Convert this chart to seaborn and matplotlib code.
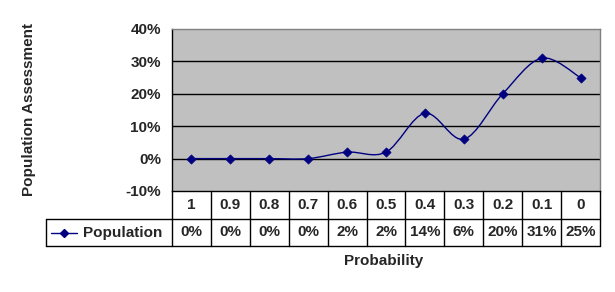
import matplotlib
matplotlib.use("Agg")
import matplotlib.pyplot as plt
import matplotlib.transforms as mtransforms
from matplotlib.path import Path
from matplotlib.patches import PathPatch
from matplotlib.lines import Line2D
import numpy as np
import pandas as pd
import seaborn as sns

categories = ["1", "0.9", "0.8", "0.7", "0.6", "0.5", "0.4", "0.3", "0.2", "0.1", "0"]
population = [0.00, 0.00, 0.00, 0.00, 0.02, 0.02, 0.14, 0.06, 0.20, 0.31, 0.25]
table_labels = ["0%", "0%", "0%", "0%", "2%", "2%", "14%", "6%", "20%", "31%", "25%"]
y_ticks = [-0.10, 0.0, 0.10, 0.20, 0.30, 0.40]
series_name = "Population"
x_title = "Probability"
y_title = "Population Assessment"

sns.set_style("white")
plt.rcParams["font.family"] = ["Liberation Sans", "DejaVu Sans"]
plt.rcParams["font.weight"] = "bold"

W, H = 615, 292
fig = plt.figure(figsize=(W / 100, H / 100), dpi=100)
fig.patch.set_facecolor("white")

def fx(px):
    return px / W

def fy(py):
    return 1 - py / H

L, R, T, B = 172, 600, 29, 191
ax = fig.add_axes([fx(L), fy(B), fx(R) - fx(L), fy(T) - fy(B)])
ax.set_facecolor("#c0c0c0")

df = pd.DataFrame({"x": np.arange(len(categories)), "y": population})
navy = "#000080"
FS = 11

# smoothed line (Excel-style Bezier through the data points)
xs = df["x"].to_numpy(dtype=float)
ys = df["y"].to_numpy(dtype=float)
pts = np.column_stack([xs, ys])
n = len(pts)
verts = [tuple(pts[0])]
codes = [Path.MOVETO]
for i in range(n - 1):
    p0 = pts[i - 1] if i > 0 else pts[i]
    p1 = pts[i]
    p2 = pts[i + 1]
    p3 = pts[i + 2] if i + 2 < n else pts[i + 1]
    c1 = p1 + (p2 - p0) / 6.0
    c2 = p2 - (p3 - p1) / 6.0
    verts += [tuple(c1), tuple(c2), tuple(p2)]
    codes += [Path.CURVE4] * 3
ax.add_patch(PathPatch(Path(verts, codes), facecolor="none", edgecolor=navy, lw=1.0, zorder=3))

sns.scatterplot(data=df, x="x", y="y", ax=ax, marker="D", s=22, color=navy,
                edgecolor=navy, linewidth=0.5, zorder=4, legend=False)

ax.set_xlim(-0.5, len(categories) - 0.5)
ax.set_ylim(y_ticks[0], y_ticks[-1])
ax.set_yticks(y_ticks)
ax.set_yticklabels([f"{int(round(v * 100))}%" for v in y_ticks], fontsize=FS, fontweight="bold")
ax.set_xticks([])
ax.set_xlabel("")
ax.set_ylabel("")
for v in y_ticks[1:-1]:
    ax.axhline(v, color="black", lw=1.0, zorder=1)
ax.tick_params(axis="y", length=5, width=1, color="black", direction="out", pad=3)
ax.spines["left"].set_color("black")
ax.spines["bottom"].set_color("black")
ax.spines["top"].set_color("#808080")
ax.spines["right"].set_color("#808080")
for s in ax.spines.values():
    s.set_linewidth(1.0)

# data table below the plot
tr = mtransforms.blended_transform_factory(ax.transData, fig.transFigure)
row1_b, row2_b = 219, 246
legend_left = 46
bounds = np.arange(len(categories) + 1) - 0.5
for k, b in enumerate(bounds):
    fig.add_artist(Line2D([b, b], [fy(B), fy(row2_b)], transform=tr, color="black", lw=1.0))
fig.add_artist(Line2D([fx(legend_left), fx(R)], [fy(row1_b), fy(row1_b)], color="black", lw=1.0))
fig.add_artist(Line2D([fx(legend_left), fx(R)], [fy(row2_b), fy(row2_b)], color="black", lw=1.0))
fig.add_artist(Line2D([fx(legend_left), fx(legend_left)], [fy(row1_b), fy(row2_b)], color="black", lw=1.0))

for i, c in enumerate(categories):
    fig.text(i, fy(205), c, transform=tr, ha="center", va="center", fontsize=FS, fontweight="bold")
    fig.text(i, fy(232.5), table_labels[i], transform=tr, ha="center", va="center", fontsize=FS, fontweight="bold")

# legend key in table
fig.add_artist(Line2D([fx(51), fx(77)], [fy(232.5), fy(232.5)], color=navy, lw=1.0))
fig.add_artist(Line2D([fx(64)], [fy(232.5)], marker="D", markersize=4, color=navy, lw=0))
fig.text(fx(83), fy(232.5), series_name, ha="left", va="center", fontsize=FS, fontweight="bold")

fig.text(fx(384), fy(261), x_title, ha="center", va="center", fontsize=FS, fontweight="bold")
fig.text(fx(29), fy(110), y_title, ha="center", va="center", rotation=90, fontsize=FS, fontweight="bold")

fig.savefig("out.png", dpi=100)
